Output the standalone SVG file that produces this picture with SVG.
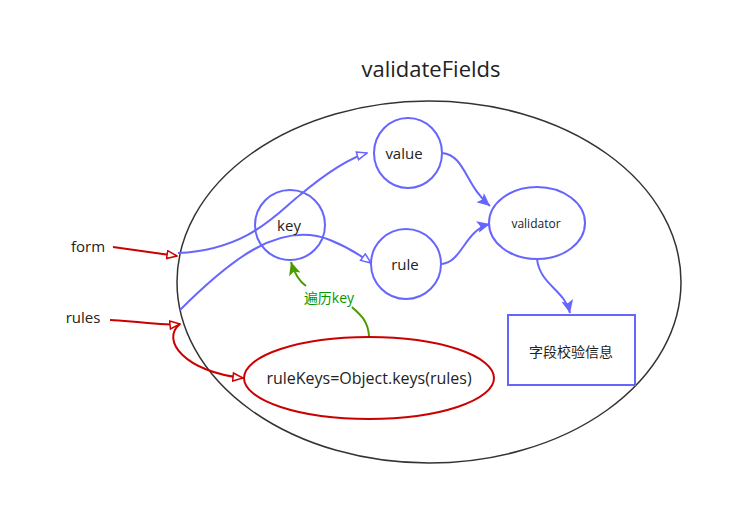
<svg xmlns="http://www.w3.org/2000/svg" width="742" height="525" viewBox="0 0 742 525">
<style>
text{font-family:"Open Sans","Noto Sans","Noto Sans CJK SC",sans-serif;fill:#222;text-anchor:middle}
.b{fill:none;stroke:#6666ff;stroke-width:2}
.r{fill:none;stroke:#cc0000;stroke-width:2}
</style>
<defs>
<marker id="or" markerWidth="12" markerHeight="10" refX="11" refY="5" orient="auto" markerUnits="userSpaceOnUse"><path d="M1,1 L11,5 L1,9 Z" fill="#fff" stroke="#cc0000" stroke-width="1.5"/></marker>
<marker id="ob" markerWidth="12" markerHeight="10" refX="11" refY="5" orient="auto" markerUnits="userSpaceOnUse"><path d="M1,1 L11,5 L1,9 Z" fill="#fff" stroke="#6666ff" stroke-width="1.5"/></marker>
<marker id="fb" markerWidth="14" markerHeight="12" refX="13" refY="6" orient="auto" markerUnits="userSpaceOnUse"><path d="M0,0 L13,6 L0,12 L3,6 Z" fill="#6666ff"/></marker>
<marker id="fg" markerWidth="14" markerHeight="12" refX="13" refY="6" orient="auto" markerUnits="userSpaceOnUse"><path d="M0,0 L13,6 L0,12 L3,6 Z" fill="#4d9900"/></marker>
</defs>
<rect width="742" height="525" fill="#fff"/>
<text x="431" y="77" font-size="22">validateFields</text>
<ellipse cx="429" cy="282" rx="252" ry="181" fill="none" stroke="#333" stroke-width="1.5"/>
<g id="connectors">
<path class="r" d="M113,247 L177,256" marker-end="url(#or)"/>
<path class="r" d="M110,320 C150,322 160,326 180,324" marker-end="url(#or)"/>
<path class="r" d="M180,324 C160,340 185,372 243,378" marker-end="url(#or)"/>
<path class="b" d="M178,253 C250,250 280,210 300,195 C330,170 350,158 367,153" marker-end="url(#ob)"/>
<path class="b" d="M180,310 C230,260 280,220 330,240 C345,246 360,255 371,263" marker-end="url(#ob)"/>
<path class="b" d="M442,153 C465,155 465,185 490,206" marker-end="url(#fb)"/>
<path class="b" d="M442,264 C462,262 465,230 490,224" marker-end="url(#fb)"/>
<path class="b" d="M537,259 C540,285 565,290 570,313" marker-end="url(#fb)"/>
<path d="M369,336 C368,320 360,315 352,307" fill="none" stroke="#4d9900" stroke-width="2"/>
<path d="M306,286 C300,282 295,275 291,262" fill="none" stroke="#4d9900" stroke-width="2" marker-end="url(#fg)"/>
</g>
<g id="value"><ellipse class="b" cx="408" cy="153" rx="34" ry="35"/><text x="404" y="159" font-size="15">value</text></g>
<g id="key"><ellipse class="b" cx="290" cy="225" rx="35" ry="35"/><text x="289" y="231" font-size="15">key</text></g>
<g id="rule"><ellipse class="b" cx="406" cy="264" rx="35" ry="35"/><text x="405" y="270" font-size="15">rule</text></g>
<g id="validator"><ellipse class="b" cx="537" cy="223" rx="48" ry="36"/><text x="536" y="228" font-size="12">validator</text></g>
<g id="info"><rect class="b" x="508" y="315" width="127" height="70"/><text x="571" y="357" font-size="14">字段校验信息</text></g>
<g id="ruleKeys"><ellipse class="r" cx="369" cy="378" rx="125" ry="41"/><text x="369" y="384" font-size="16">ruleKeys=Object.keys(rules)</text></g>
<text x="329" y="303" font-size="14" style="fill:#009900">遍历key</text>
<text x="88" y="252" font-size="15">form</text>
<text x="83" y="323" font-size="15">rules</text>
</svg>
